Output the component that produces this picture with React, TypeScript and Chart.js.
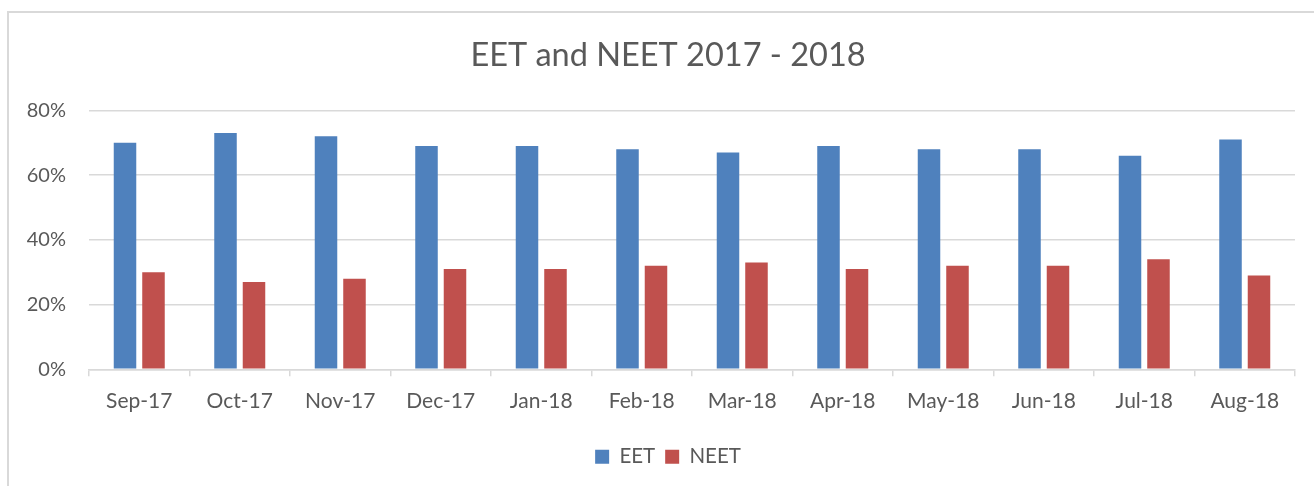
import React, { useEffect, useRef } from "react";
import { Chart, registerables } from "chart.js";

Chart.register(...registerables);

const categories = ["Sep-17", "Oct-17", "Nov-17", "Dec-17", "Jan-18", "Feb-18", "Mar-18", "Apr-18", "May-18", "Jun-18", "Jul-18", "Aug-18"];
const eetValues = [70, 73, 72, 69, 69, 68, 67, 69, 68, 68, 66, 71];
const neetValues = [30, 27, 28, 31, 31, 32, 33, 31, 32, 32, 34, 29];
const yTicks = [0, 20, 40, 60, 80];
const titleText = "EET and NEET 2017 - 2018";

const FONT = "Lato, 'Open Sans', sans-serif";
const TEXT = "#595959";
const GRID = "#D9D9D9";

export default function App() {
  const ref = useRef<HTMLCanvasElement | null>(null);

  useEffect(() => {
    document.body.style.overflow = "hidden";
    const ctx = ref.current!;
    const chart = new Chart(ctx, {
      type: "bar",
      data: {
        labels: categories,
        datasets: [
          { label: "EET", data: eetValues, backgroundColor: "#4F81BD", borderWidth: 0, categoryPercentage: 0.567, barPercentage: 0.79 },
          { label: "NEET", data: neetValues, backgroundColor: "#C0504D", borderWidth: 0, categoryPercentage: 0.567, barPercentage: 0.79 },
        ],
      },
      options: {
        responsive: false,
        animation: false,
        layout: { padding: { left: 0, right: 0, top: 0, bottom: 9 } },
        plugins: {
          title: {
            display: true,
            text: titleText,
            color: TEXT,
            font: { family: FONT, size: 32.5, weight: "normal" },
            padding: { top: 36, bottom: 35.3 },
          },
          legend: {
            display: true,
            position: "bottom",
            labels: {
              color: TEXT,
              font: { family: FONT, size: 20.5 },
              boxWidth: 14,
              boxHeight: 14,
              padding: 10,
            },
          },
          tooltip: { enabled: false },
        },
        scales: {
          x: {
            grid: {
              display: true,
              drawOnChartArea: false,
              drawTicks: true,
              tickLength: 7,
              offset: true,
              color: GRID,
              lineWidth: 1.5,
            },
            border: { display: true, color: GRID, width: 1.5 },
            ticks: { color: TEXT, font: { family: FONT, size: 21 }, padding: 12, maxRotation: 0, autoSkip: false },
            afterFit: (scale: any) => { scale.height += 11; },
          },
          y: {
            min: 0,
            max: 80,
            afterBuildTicks: (scale: any) => { scale.ticks = yTicks.map((v) => ({ value: v })); },
            grid: { color: GRID, lineWidth: 1.5, drawTicks: false },
            border: { display: false },
            ticks: {
              color: TEXT,
              font: { family: FONT, size: 20 },
              padding: 23,
              callback: (v: any) => v + "%",
            },
            afterFit: (scale: any) => { scale.width = 89; },
          },
          yRight: {
            position: "right",
            display: true,
            min: 0,
            max: 80,
            grid: { display: false, drawTicks: false },
            border: { display: false },
            ticks: { display: false },
            afterFit: (scale: any) => { scale.width = 41; },
          },
        },
      },
    });
    return () => chart.destroy();
  }, []);

  return (
    <div>
      <div
        style={{
          position: "fixed",
          left: 7,
          top: 11,
          width: 1400,
          height: 600,
          borderLeft: "2px solid #D9D9D9",
          borderTop: "2px solid #D9D9D9",
          boxSizing: "border-box",
        }}
      />
      <canvas
        ref={ref}
        width={1336}
        height={486}
        style={{ position: "fixed", left: 0, top: 0, width: 1336, height: 486 }}
      />
    </div>
  );
}
